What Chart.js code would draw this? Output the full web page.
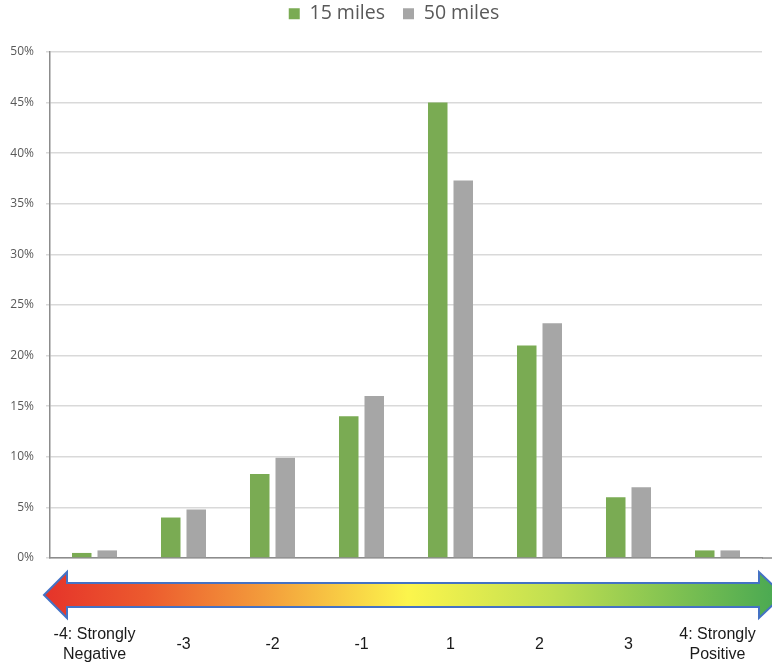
<!DOCTYPE html>
<html>
<head>
<meta charset="utf-8">
<script src="https://cdn.jsdelivr.net/npm/chart.js@4/dist/chart.umd.min.js"></script>
<style>
  html, body { margin: 0; padding: 0; background: #ffffff; }
  #wrap { width: 772px; height: 662px; }
</style>
</head>
<body>
<div id="wrap"><canvas id="c" width="772" height="662"></canvas></div>
<script>
// Sentiment scale categories (-4 .. 4, no zero)
const categories = [['-4: Strongly', 'Negative'], '-3', '-2', '-1', '1', '2', '3', ['4: Strongly', 'Positive']];
// Share of responses (%) by distance
const miles15 = [0.5, 4.0, 8.3, 14.0, 45.0, 21.0, 6.0, 0.75];
const miles50 = [0.75, 4.8, 9.9, 16.0, 37.3, 23.2, 7.0, 0.75];
// Percentage axis
const yMin = 0;
const yMax = 50;
const yStep = 5;

const GREEN = '#7aab53';
const GREY = '#a6a6a6';

// Fixed legend band height, and nudge the legend row into place
const legendBand = {
  id: 'legendBand',
  beforeInit(chart) {
    const lg = chart.legend;
    if (!lg) return;
    const origFit = lg.fit;
    lg.fit = function () {
      origFit.call(this);
      this.height = 52;
    };
  },
  afterLayout(chart) {
    const lg = chart.legend;
    if (!lg) return;
    lg.left += 13;
    lg.right += 13;
    lg.top -= 14;
    lg.bottom -= 14;
  }
};

// Gradient arrow under the axis running from negative to positive
const scaleArrow = {
  id: 'scaleArrow',
  afterDraw(chart) {
    const ctx = chart.ctx;
    const area = chart.chartArea;
    const yMid = 595;
    const shaftHalf = 12;
    const headHalf = 23;
    const xL = 44, xLb = 67;
    const xRb = 759, xR = 783;

    // extend the baseline to the edge
    ctx.save();
    ctx.strokeStyle = '#8c8c8c';
    ctx.lineWidth = 1.5;
    ctx.beginPath();
    ctx.moveTo(area.right, area.bottom);
    ctx.lineTo(chart.width, area.bottom);
    ctx.stroke();
    ctx.restore();

    ctx.save();
    const g = ctx.createLinearGradient(xL, 0, 772, 0);
    g.addColorStop(0.0, '#e5332a');
    g.addColorStop(0.14, '#ec5a2e');
    g.addColorStop(0.30, '#f39b3b');
    g.addColorStop(0.50, '#fcf54c');
    g.addColorStop(0.70, '#c0df51');
    g.addColorStop(1.0, '#4caa52');
    ctx.beginPath();
    ctx.moveTo(xL, yMid);
    ctx.lineTo(xLb, yMid - headHalf);
    ctx.lineTo(xLb, yMid - shaftHalf);
    ctx.lineTo(xRb, yMid - shaftHalf);
    ctx.lineTo(xRb, yMid - headHalf);
    ctx.lineTo(xR, yMid);
    ctx.lineTo(xRb, yMid + headHalf);
    ctx.lineTo(xRb, yMid + shaftHalf);
    ctx.lineTo(xLb, yMid + shaftHalf);
    ctx.lineTo(xLb, yMid + headHalf);
    ctx.closePath();
    ctx.fillStyle = g;
    ctx.fill();
    ctx.strokeStyle = '#4472c4';
    ctx.lineWidth = 2;
    ctx.lineJoin = 'miter';
    ctx.stroke();
    ctx.restore();
  }
};

new Chart(document.getElementById('c'), {
  type: 'bar',
  data: {
    labels: categories,
    datasets: [
      { label: '15 miles', data: miles15, backgroundColor: GREEN, borderWidth: 0 },
      { label: '50 miles', data: miles50, backgroundColor: GREY, borderWidth: 0 }
    ]
  },
  options: {
    responsive: false,
    animation: false,
    devicePixelRatio: 1,
    categoryPercentage: 0.573,
    barPercentage: 0.765,
    layout: { padding: { left: 0, right: 10, top: 0, bottom: 0 } },
    plugins: {
      tooltip: { enabled: false },
      legend: {
        position: 'top',
        labels: {
          boxWidth: 11,
          boxHeight: 11,
          padding: 18,
          color: '#595959',
          font: { family: 'Open Sans', size: 19.5 }
        }
      }
    },
    scales: {
      x: {
        grid: {
          display: true,
          drawOnChartArea: false,
          drawTicks: true,
          tickLength: 77,
          tickColor: 'rgba(0,0,0,0)'
        },
        border: { display: true, color: '#8c8c8c', width: 1.5 },
        ticks: {
          autoSkip: false,
          maxRotation: 0,
          minRotation: 0,
          crossAlign: 'center',
          padding: 0,
          color: '#1a1a1a',
          font: { family: 'Liberation Sans', size: 16, lineHeight: 1.2 }
        },
        afterFit(scale) { scale.height = 104; }
      },
      y: {
        min: yMin,
        max: yMax,
        ticks: {
          stepSize: yStep,
          padding: 12,
          color: '#595959',
          font: { family: 'Open Sans', size: 12 },
          callback: (v) => v + '%'
        },
        grid: { color: '#d9d9d9', lineWidth: 1.5, tickLength: 4 },
        border: { display: true, color: '#8c8c8c', width: 1.5 },
        afterFit(scale) { scale.width = 50; }
      }
    }
  },
  plugins: [legendBand, scaleArrow]
});
</script>
</body>
</html>
